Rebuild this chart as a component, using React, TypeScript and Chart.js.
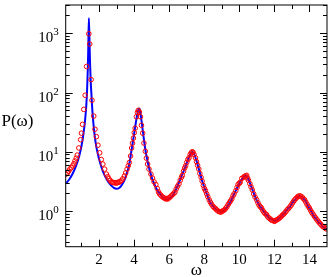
import React, { useEffect, useRef } from "react";
import { Chart, registerables } from "chart.js";

Chart.register(...registerables);

// Red circles (measured data): omega and P(omega)
const circOmega = [
  0.12, 0.2, 0.27, 0.34, 0.42, 0.5, 0.57, 0.63, 0.7, 0.76, 0.85, 0.95, 1.0, 1.06, 1.13, 1.21, 1.29, 1.42, 1.47, 1.55,
  1.6, 1.7, 1.77, 1.85, 1.94, 2.04, 2.13, 2.22, 2.32, 2.42, 2.5, 2.56, 2.63, 2.7, 2.78, 2.85, 2.92, 3.0, 3.06, 3.13,
  3.2, 3.27, 3.35, 3.45, 3.52, 3.6, 3.67, 3.73, 3.8, 3.86, 3.91, 3.96, 4.01, 4.06, 4.13, 4.19, 4.24, 4.3, 4.36, 4.42,
  4.49, 4.56, 4.64, 4.7, 4.77, 4.85, 4.96, 5.05, 5.14, 5.24, 5.32, 5.39, 5.45, 5.52, 5.6, 5.66, 5.73, 5.8, 5.86, 5.92,
  5.98, 6.05, 6.12, 6.2, 6.27, 6.33, 6.4, 6.47, 6.56, 6.63, 6.7, 6.75, 6.82, 6.88, 6.94, 7.0, 7.07, 7.13, 7.2, 7.26,
  7.31, 7.36, 7.42, 7.5, 7.56, 7.62, 7.69, 7.75, 7.82, 7.88, 7.95, 8.01, 8.07, 8.14, 8.2, 8.28, 8.35, 8.42, 8.5, 8.57,
  8.64, 8.7, 8.78, 8.85, 8.92, 8.97, 9.04, 9.1, 9.17, 9.23, 9.29, 9.36, 9.43, 9.5, 9.57, 9.64, 9.7, 9.8, 9.87, 9.93,
  10.0, 10.05, 10.14, 10.24, 10.3, 10.37, 10.42, 10.47, 10.52, 10.6, 10.67, 10.74, 10.82, 10.9, 10.99, 11.06, 11.13, 11.2, 11.27, 11.34,
  11.41, 11.48, 11.55, 11.62, 11.7, 11.77, 11.84, 11.92, 12.0, 12.03, 12.1, 12.17, 12.24, 12.31, 12.38, 12.45, 12.52, 12.59, 12.66, 12.73,
  12.8, 12.88, 12.95, 13.02, 13.09, 13.16, 13.23, 13.3, 13.37, 13.44, 13.5, 13.58, 13.65, 13.72, 13.79, 13.86, 13.93, 14.0, 14.07, 14.14,
  14.21, 14.29, 14.36, 14.43, 14.5, 14.57, 14.64, 14.72, 14.8, 14.88, 14.95,
];
const circP = [
  4.2, 4.4, 4.7, 5.1, 5.4, 5.8, 6.3, 7.0, 7.8, 8.8, 11.6, 16, 20.6, 29, 52, 90, 275, 980, 660, 165,
  74, 40, 24, 18, 12.9, 9.6, 7.4, 6.2, 5.1, 4.2, 3.8, 3.5, 3.3, 3.1, 3.05, 3.0, 3.0, 2.95, 3.05, 3.05,
  3.15, 3.25, 3.5, 3.9, 4.4, 5.1, 5.8, 6.6, 8.5, 11.6, 14, 17, 21, 25, 39, 46, 50, 47, 39, 28,
  20.6, 14, 10.2, 7.8, 6.2, 5.1, 4.2, 3.6, 3.1, 2.8, 2.4, 2.1, 1.95, 1.85, 1.75, 1.7, 1.65, 1.6, 1.62, 1.6,
  1.66, 1.72, 1.8, 1.9, 2.0, 2.08, 2.35, 2.6, 2.86, 3.3, 3.7, 4.0, 4.7, 5.3, 5.8, 6.6, 7.4, 7.9, 9.0, 9.6,
  10, 9.8, 9.0, 7.9, 6.8, 5.9, 5.1, 4.3, 3.7, 3.2, 2.7, 2.4, 2.2, 1.95, 1.75, 1.55, 1.41, 1.3, 1.2, 1.14,
  1.1, 1.05, 1.0, 0.98, 0.96, 0.97, 1.0, 1.02, 1.06, 1.12, 1.17, 1.28, 1.38, 1.48, 1.6, 1.8, 1.95, 2.2, 2.5, 2.8,
  2.95, 3.05, 3.55, 3.7, 3.85, 3.9, 4.0, 3.6, 3.3, 2.9, 2.55, 2.27, 1.95, 1.72, 1.55, 1.38, 1.25, 1.18, 1.12, 1.02,
  0.95, 0.9, 0.87, 0.8, 0.76, 0.73, 0.7, 0.69, 0.67, 0.68, 0.7, 0.72, 0.74, 0.77, 0.8, 0.85, 0.88, 0.93, 0.98, 1.05,
  1.1, 1.17, 1.25, 1.35, 1.45, 1.55, 1.63, 1.72, 1.78, 1.8, 1.78, 1.72, 1.62, 1.55, 1.42, 1.3, 1.2, 1.12, 1.02, 0.94,
  0.88, 0.81, 0.76, 0.71, 0.67, 0.63, 0.6, 0.56, 0.54, 0.52, 0.5,
];

// Blue line (theory): omega and P(omega)
const lineOmega = [
  0.1, 0.3, 0.5, 0.65, 0.8, 0.9, 1.0, 1.1, 1.2, 1.27, 1.32, 1.36, 1.39, 1.42, 1.45, 1.48, 1.52, 1.57, 1.62, 1.68,
  1.75, 1.85, 2.0, 2.13, 2.3, 2.5, 2.7, 2.85, 3.0, 3.15, 3.3, 3.5, 3.65, 3.75, 3.85, 3.95, 4.05, 4.15, 4.25, 4.3,
  4.36, 4.45, 4.55, 4.65, 4.8, 4.95, 5.1, 5.3, 5.5, 5.7, 5.9, 6.1, 6.3, 6.5, 6.7, 6.9, 7.1, 7.25, 7.32, 7.4,
  7.55, 7.7, 7.9, 8.1, 8.3, 8.5, 8.7, 8.9, 9.1, 9.3, 9.5, 9.7, 9.9, 10.1, 10.3, 10.4, 10.5, 10.7, 10.9, 11.1,
  11.3, 11.5, 11.7, 11.9, 12.05, 12.3, 12.5, 12.7, 12.9, 13.1, 13.3, 13.45, 13.6, 13.8, 14.0, 14.2, 14.4, 14.6, 14.8, 15.0,
];
const lineP = [
  2.9, 3.4, 4.3, 5.4, 7.2, 9.2, 12.5, 19, 33, 58, 110, 250, 600, 1800, 900, 380, 170, 90, 50, 30,
  19, 12, 7.6, 5.6, 4.1, 3.2, 2.7, 2.45, 2.38, 2.45, 2.75, 3.6, 5.0, 6.8, 10.5, 16, 25, 38, 52, 54,
  45, 29, 17, 10.5, 6.2, 4.2, 3.1, 2.3, 1.9, 1.65, 1.58, 1.7, 2.05, 2.75, 3.8, 5.4, 7.7, 9.5, 9.9, 9.4,
  7.2, 5.0, 3.1, 2.1, 1.5, 1.2, 1.04, 0.97, 1.01, 1.16, 1.46, 1.92, 2.55, 3.3, 3.85, 3.95, 3.5, 2.5, 1.75, 1.3,
  1.07, 0.89, 0.77, 0.7, 0.68, 0.76, 0.87, 1.03, 1.2, 1.47, 1.7, 1.8, 1.7, 1.42, 1.12, 0.88, 0.72, 0.62, 0.54, 0.49,
];

const xMajorTicks = [2, 4, 6, 8, 10, 12, 14];
const xMinorTicks = [1, 3, 5, 7, 9, 11, 13];
const yMajorExponents = [0, 1, 2, 3];
const xTitle = "ω";
const yTitle = "P(ω)";

const SERIF = '"Liberation Serif", "Times New Roman", serif';

export default function App() {
  const ref = useRef<HTMLCanvasElement | null>(null);

  useEffect(() => {
    const canvas = ref.current;
    if (!canvas) return;

    const axesPlugin = {
      id: "axesPlugin",
      afterDatasetsDraw(chart: any) {
        const ctx = chart.ctx as CanvasRenderingContext2D;
        const { left, right, top, bottom } = chart.chartArea;
        const xs = chart.scales.x;
        const ys = chart.scales.y;
        ctx.save();
        ctx.strokeStyle = "#000";
        ctx.lineWidth = 1;
        ctx.strokeRect(left, top, right - left, bottom - top);

        const major = 7;
        const minor = 4;
        ctx.beginPath();
        for (const v of xMajorTicks) {
          const px = Math.round(xs.getPixelForValue(v)) + 0.5;
          ctx.moveTo(px, bottom); ctx.lineTo(px, bottom - major);
          ctx.moveTo(px, top); ctx.lineTo(px, top + major);
        }
        for (const v of xMinorTicks) {
          const px = Math.round(xs.getPixelForValue(v)) + 0.5;
          ctx.moveTo(px, bottom); ctx.lineTo(px, bottom - minor);
          ctx.moveTo(px, top); ctx.lineTo(px, top + minor);
        }
        const yMin = ys.min, yMax = ys.max;
        for (let e = -1; e <= 3; e++) {
          for (let m = 1; m <= 9; m++) {
            const v = m * Math.pow(10, e);
            if (v < yMin || v > yMax) continue;
            const py = Math.round(ys.getPixelForValue(v)) + 0.5;
            const len = m === 1 ? major : minor;
            ctx.moveTo(left, py); ctx.lineTo(left + len, py);
            ctx.moveTo(right, py); ctx.lineTo(right - len, py);
          }
        }
        ctx.stroke();

        // x tick labels
        ctx.fillStyle = "#000";
        ctx.font = `15px ${SERIF}`;
        ctx.textAlign = "center";
        ctx.textBaseline = "alphabetic";
        for (const v of xMajorTicks) {
          ctx.fillText(String(v), xs.getPixelForValue(v), bottom + 17);
        }
        // y tick labels with superscripts
        for (const e of yMajorExponents) {
          const py = ys.getPixelForValue(Math.pow(10, e));
          ctx.font = `15px ${SERIF}`;
          ctx.textAlign = "right";
          ctx.fillText("10", left - 12.5, py + 9);
          ctx.font = `11px ${SERIF}`;
          ctx.textAlign = "left";
          ctx.fillText(String(e), left - 12.5, py + 2);
        }
        // titles
        ctx.font = `17px ${SERIF}`;
        ctx.textAlign = "left";
        ctx.textBaseline = "middle";
        ctx.fillText(yTitle, 1.5, 122);
        ctx.textAlign = "center";
        ctx.fillText(xTitle, (left + right) / 2, 270.5);
        ctx.restore();
      },
    };

    const chart = new Chart(canvas, {
      type: "line",
      data: {
        datasets: [
          {
            label: "data",
            data: circOmega.map((x, i) => ({ x, y: circP[i] })),
            showLine: false,
            pointStyle: "circle",
            pointRadius: 2.3,
            pointBorderWidth: 1,
            pointBorderColor: "#ff0000",
            pointBackgroundColor: "rgba(0,0,0,0)",
            borderColor: "#ff0000",
            order: 0,
          },
          {
            label: "theory",
            data: lineOmega.map((x, i) => ({ x, y: lineP[i] })),
            borderColor: "#0000ff",
            borderWidth: 2,
            pointRadius: 0,
            cubicInterpolationMode: "monotone",
            order: 1,
          },
        ],
      },
      options: {
        responsive: false,
        animation: false,
        devicePixelRatio: 1,
        layout: { padding: { left: 0, right: 2.7, top: 1.5, bottom: 0 } },
        plugins: { legend: { display: false }, tooltip: { enabled: false } },
        scales: {
          x: {
            type: "linear",
            min: 0.1,
            max: 15,
            ticks: { display: false },
            grid: { display: false },
            border: { display: false },
            afterFit: (s: any) => { s.height = 30.3; },
          },
          y: {
            type: "logarithmic",
            min: 0.25,
            max: 3000,
            ticks: { display: false },
            grid: { display: false },
            border: { display: false },
            afterFit: (s: any) => { s.width = 65.7; },
          },
        },
      },
      plugins: [axesPlugin],
    } as any);

    return () => chart.destroy();
  }, []);

  return (
    <div style={{ position: "fixed", left: 0, top: 0, width: 332, height: 277, background: "#fff" }}>
      <canvas ref={ref} width={332} height={277} style={{ width: 332, height: 277 }} />
    </div>
  );
}
